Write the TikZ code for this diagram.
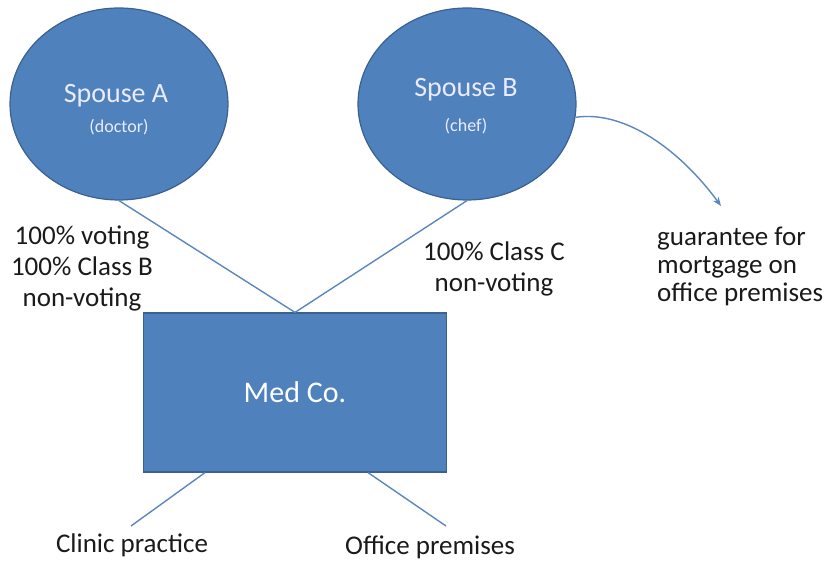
\documentclass[tikz,border=0pt]{standalone}
\usepackage{fontspec}
\setmainfont{Carlito}
\usetikzlibrary{shapes.geometric,arrows.meta}
\definecolor{shapeblue}{HTML}{4F81BD}
\definecolor{shapeedge}{HTML}{3A6190}
\definecolor{linkblue}{HTML}{5B86BE}
\definecolor{inktext}{HTML}{1A1A1A}
\tikzset{
  person/.style={ellipse, draw=shapeedge, fill=shapeblue, line width=1.2pt,
    minimum width=218pt, minimum height=192pt, inner sep=0pt},
  company/.style={rectangle, draw=shapeedge, fill=shapeblue, line width=1.2pt,
    minimum width=303pt, minimum height=159pt, inner sep=0pt,
    text=white, font=\fontsize{30}{34}\selectfont},
  bigwhite/.style={text=white!92!blue, font=\fontsize{28}{32}\selectfont, inner sep=0pt},
  smallwhite/.style={text=white!92!blue, font=\fontsize{18}{21}\selectfont, inner sep=0pt},
  note/.style={text=inktext, font=\fontsize{27}{31}\selectfont, inner sep=0pt},
  link/.style={draw=linkblue, line width=1.4pt},
}
\begin{document}
\begin{tikzpicture}[x=1pt,y=-1pt]
  \useasboundingbox (0,0) rectangle (825,561);

  % shareholders
  \node[person] (sa) at (119,104) {};
  \node[bigwhite] (saname) at (116,96) {Spouse A};
  \node[smallwhite] (sarole) at (119,127) {(doctor)};

  \node[person] (sb) at (467,104) {};
  \node[bigwhite] (sbname) at (466,90) {Spouse B};
  \node[smallwhite] (sbrole) at (466,126) {(chef)};

  % the company
  \node[company] (med) at (295,392.5) {Med Co.};

  % share holdings
  \draw[link] (sa.south) -- (med.north);
  \draw[link] (sb.south) -- (med.north);

  \node[note, align=center] (holdA) at (82,268) {100\% voting\\100\% Class B\\non-voting};
  \node[note, align=center] (holdB) at (494,269) {100\% Class C\\non-voting};

  % assets held by the company
  \coordinate (clinicend) at (131,526);
  \coordinate (officeend) at (446,526);
  \draw[link] ([xshift=-90pt]med.south) -- (clinicend);
  \draw[link] ([xshift=73pt]med.south) -- (officeend);

  \node[note] (clinic) at (132,545) {Clinic practice};
  \node[note] (office) at (430,547) {Office premises};

  % personal guarantee
  \coordinate (guarend) at (721,206);
  \draw[link, -{Stealth[length=9pt,width=7pt]}] (sb.-7)
    .. controls (625,110) and (680,150) .. (guarend);
  \node[note, align=left, anchor=west, font=\fontsize{27}{28}\selectfont]
    (guar) at (657,266) {guarantee for\\mortgage on\\office premises};
\end{tikzpicture}
\end{document}
